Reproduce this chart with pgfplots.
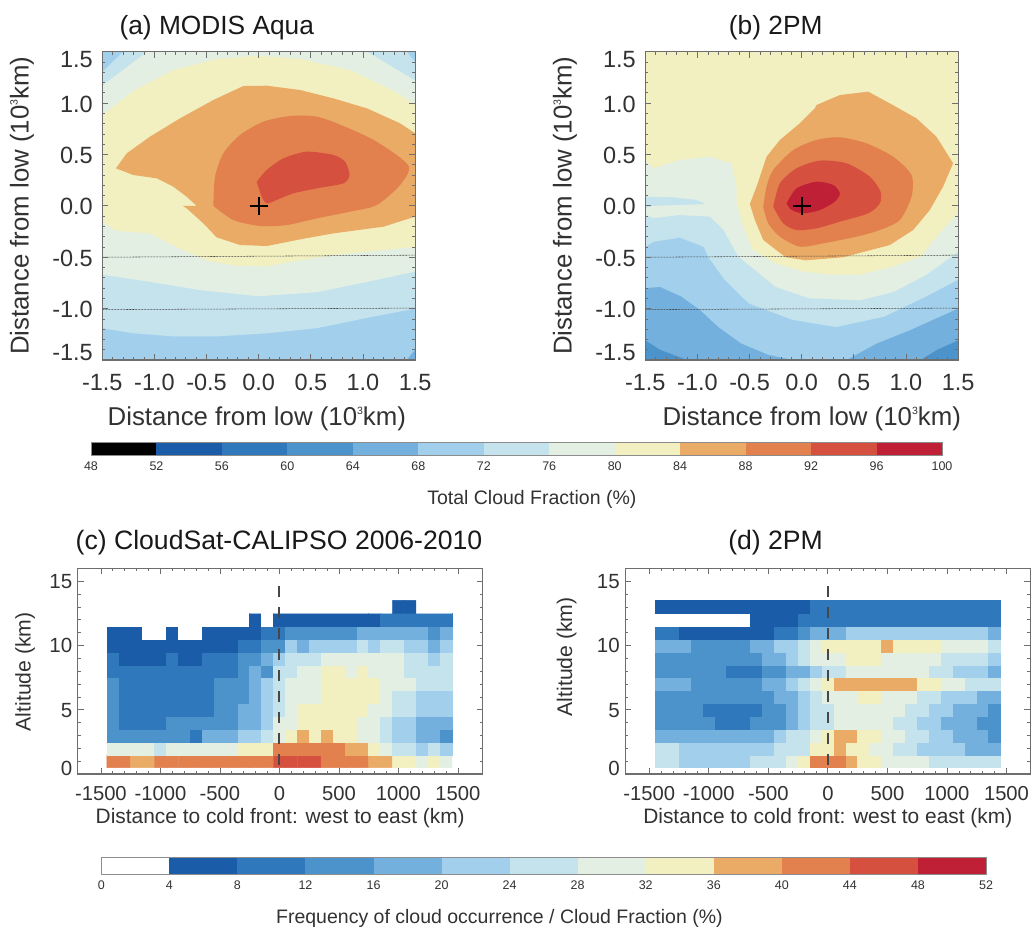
\documentclass[border=0pt]{standalone}
\usepackage{pgfplots}
\pgfplotsset{compat=1.18}
\usepackage{fontspec}
\setmainfont{Liberation Sans}
\usetikzlibrary{plotmarks}
\definecolor{K}{RGB}{0,0,0}
\definecolor{W}{RGB}{255,255,255}
\definecolor{La}{RGB}{26,92,168}
\definecolor{Lb}{RGB}{46,120,187}
\definecolor{Lc}{RGB}{77,147,203}
\definecolor{Ld}{RGB}{115,176,221}
\definecolor{Le}{RGB}{162,208,236}
\definecolor{Lf}{RGB}{197,227,236}
\definecolor{Lg}{RGB}{227,239,226}
\definecolor{Lh}{RGB}{242,239,192}
\definecolor{Li}{RGB}{233,171,102}
\definecolor{Lj}{RGB}{226,128,78}
\definecolor{Lk}{RGB}{213,80,63}
\definecolor{Ll}{RGB}{191,32,54}
\definecolor{framec}{RGB}{110,110,110}
\definecolor{txt}{RGB}{50,50,50}
\newcommand{\yl}[2]{\raisebox{#1}[0pt][0pt]{#2}}
\newcommand{\supthree}{\raisebox{.42em}{\fontsize{10.5}{12}\selectfont 3}}
\pgfplotsset{
  every axis title shift=0pt,
  every axis/.append style={scale only axis, axis on top,
    tick align=inside, major tick length=6pt, minor tick length=3pt,
    tick style={color=framec, line width=.8pt},
    minor tick style={color=framec, line width=.7pt},
    axis line style={color=framec, line width=1.1pt},
    clip=true},
  mypanel/.style={width=312.8pt, height=308.3pt, xmin=-1.5, xmax=1.5, ymin=-1.5, ymax=1.5,
    xtick={-1.5,-1,-.5,0,.5,1,1.5},
    xticklabels={-1.5,-1.0,-0.5,0.0,0.5,1.0,1.5},
    ytick={-1.5,-1,-.5,0,.5,1,1.5},
    yticklabels={\yl{8pt}{-1.5},\yl{-1pt}{-1.0},\yl{-1pt}{-0.5},\yl{0pt}{0.0},\yl{-1pt}{0.5},\yl{-1pt}{1.0},\yl{-8pt}{1.5}},
    minor x tick num=4, minor y tick num=4,
    xticklabel style={font=\fontsize{23.5}{26}\selectfont, color=txt, yshift=-11pt},
    yticklabel style={font=\fontsize{23.5}{26}\selectfont, color=txt, yshift=-8.3pt, xshift=-6pt},
    xlabel={Distance from low (10\supthree km)},
    ylabel={Distance from low (10\supthree km)},
    label style={font=\fontsize{25.8}{28}\selectfont, color=txt},
    title style={font=\fontsize{26.3}{30}\selectfont, color=black!90},
  },
  mycross/.style={only marks, mark=+, mark size=9pt, mark options={line width=2pt, draw=black, solid}},
  mydash/.style={color=black!75, line width=.55pt, dash pattern=on 2pt off 1pt},
  mygrid/.style={width=405pt, height=205.7pt, ymin=0, ymax=16,
    xtick={-1500,-1000,-500,0,500,1000,1500},
    xticklabels={-1500,-1000,-500,0,500,1000,1500},
    ytick={0,5,10,15},
    yticklabels={\yl{6pt}{0},\yl{0pt}{5},\yl{0pt}{10},\yl{0pt}{15}},
    minor x tick num=4, minor y tick num=4,
    xticklabel style={font=\fontsize{20.2}{24}\selectfont, color=txt, yshift=-9pt},
    yticklabel style={font=\fontsize{20.5}{24}\selectfont, color=txt, yshift=-7.5pt, xshift=-2pt},
    xlabel={Distance to cold front: west to east (km)},
    ylabel={Altitude (km)},
    xlabel style={font=\fontsize{20.9}{24}\selectfont, color=txt},
    ylabel style={font=\fontsize{21.2}{24}\selectfont, color=txt},
    title style={font=\fontsize{26.6}{30}\selectfont, color=black!90},
    colormap={frq}{rgb255=(255,255,255) rgb255=(26,92,168) rgb255=(46,120,187) rgb255=(77,147,203)
      rgb255=(115,176,221) rgb255=(162,208,236) rgb255=(197,227,236) rgb255=(227,239,226)
      rgb255=(242,239,192) rgb255=(233,171,102) rgb255=(226,128,78) rgb255=(213,80,63) rgb255=(191,32,54)},
    colormap access=piecewise constant, point meta min=0, point meta max=52,
  },
  mycells/.style={matrix plot*, mesh/cols=29, point meta=explicit},
  myfront/.style={color=black!72, line width=2pt, dash pattern=on 11pt off 10pt},
  myround/.style={draw=none, smooth, tension=.45},
  mybar/.style={ymin=0, ymax=1, ytick=\empty, major tick length=0pt,
    /pgf/number format/assume math mode=true,
    axis line style={color=black!45, line width=.8pt},
    xticklabel style={font=\fontsize{12.5}{14}\selectfont, color=txt, yshift=-3pt},
    label style={font=\fontsize{19.5}{22}\selectfont, color=txt}},
}
\begin{document}
\begin{tikzpicture}[x=1pt,y=1pt]
\path[use as bounding box] (0,0) rectangle (1032,926);

% ---------- (a)
\begin{axis}[mypanel, at={(102.3pt,566pt)}, anchor=south west,
  title={(a) MODIS Aqua}, title style={at={(axis description cs:.366,1.078)}, anchor=center},
  xlabel style={at={(axis description cs:.494,-.19)}, anchor=center},
  ylabel style={at={(axis description cs:-.257,.5)}, anchor=center}]
\addplot[fill=Le, draw=none] coordinates {(-1.5,-1.5)(1.5,-1.5)(1.5,1.5)(-1.5,1.5)};
\addplot[fill=Ld, draw=none] coordinates {(1.42,-1.5)(1.5,-1.5)(1.5,-1.40)};
\addplot[fill=Lf, draw=none] coordinates {(-1.5,-1.19)(-1.2,-1.24)(-.82,-1.27)(-.4,-1.27)(.08,-1.24)(.56,-1.19)(1.04,-1.09)(1.5,-1.0)(1.5,1.4)(1.42,1.5)(-1.3,1.5)(-1.5,1.3)};
\addplot[fill=Lg, draw=none] coordinates {(-1.5,-.67)(-1.04,-.74)(-.56,-.82)(0,-.88)(.56,-.84)(1.04,-.74)(1.5,-.64)(1.5,1.22)(1.04,1.5)(-1.07,1.5)(-1.5,1.17)};
\addplot[fill=Lh, draw=none] coordinates {(-1.5,-.15)(-1.38,-.24)(-1.04,-.27)(-.79,-.40)(-.50,-.53)(-.24,-.58)(.08,-.59)(.33,-.54)(.72,-.48)(1.2,-.43)(1.5,-.4)(1.5,.99)(1.29,1.12)(.88,1.32)(.4,1.43)(0,1.46)(-.4,1.43)(-.82,1.32)(-1.2,1.12)(-1.5,.88)};
\addplot[fill=Li, draw=none] coordinates {(-1.369,.365)(-1.266,.511)(-1.043,.673)(-.755,.851)(-.435,1.03)(-.147,1.166)(.077,1.169)(.397,1.127)(.716,1.046)(1.036,.949)(1.356,.803)(1.5,.705)(1.5,-.105)(1.196,-.203)(.716,-.268)(.397,-.326)(.077,-.391)(-.179,-.381)(-.403,-.307)(-.531,-.17)(-.691,-.024)(-.729,0)(-.595,0)(-.691,.089)(-.819,.187)(-.979,.268)(-1.202,.3)};
\addplot[fill=Lj, myround] coordinates {(-.435,0)(-.419,.284)(-.339,.511)(-.179,.689)(.045,.819)(.301,.874)(.556,.868)(.812,.777)(1.132,.624)(1.436,.391)(1.356,.203)(1.132,.008)(.876,-.057)(.556,-.122)(.269,-.187)(.013,-.196)(-.243,-.138)(-.435,0)};
\addplot[fill=Lk, myround] coordinates {(-.019,.235)(.077,.349)(.237,.462)(.46,.527)(.716,.495)(.828,.43)(.87,.3)(.812,.219)(.556,.17)(.333,.122)(.173,.057)(.077,.024)(.029,.089)(-.019,.235)};
\addplot[mydash] coordinates {(-1.5,-.5)(1.5,-.48)};
\addplot[mydash] coordinates {(-1.5,-1.01)(1.5,-.995)};
\addplot[mycross] coordinates {(0,0)};
\end{axis}

% ---------- (b)
\begin{axis}[mypanel, at={(645.3pt,566pt)}, anchor=south west,
  title={(b) 2PM}, title style={at={(axis description cs:.417,1.078)}, anchor=center},
  xlabel style={at={(axis description cs:.532,-.19)}, anchor=center},
  ylabel style={at={(axis description cs:-.257,.5)}, anchor=center}]
\addplot[fill=Lh, draw=none] coordinates {(-1.5,-1.5)(1.5,-1.5)(1.5,1.5)(-1.5,1.5)};
\addplot[fill=Lg, draw=none] coordinates {(-1.5,.446)(-1.423,.365)(-1.168,.446)(-.88,.478)(-.673,.414)(-.625,.187)(-.625,.024)(-.56,-.2)(-.47,-.43)(-.25,-.56)(.01,-.64)(.27,-.67)(.56,-.67)(.88,-.59)(1.14,-.495)(1.32,-.27)(1.5,-.07)(1.5,-1.5)(-1.5,-1.5)};
\addplot[fill=Lf, draw=none] coordinates {(-1.5,.089)(-1.232,.083)(-1.008,.057)(-.928,.018)(-1.168,.008)(-1.423,0)(-1.5,-.02)};
\addplot[fill=Lf, draw=none] coordinates {(-1.5,-.09)(-1.42,-.12)(-1.17,-.09)(-.88,-.105)(-.75,-.235)(-.61,-.495)(-.45,-.625)(-.25,-.79)(.07,-.9)(.56,-.92)(.88,-.84)(1.2,-.67)(1.5,-.45)(1.5,-1.5)(-1.5,-1.5)};
\addplot[fill=Le, draw=none] coordinates {(-1.5,-.4)(-1.42,-.35)(-1.17,-.31)(-.94,-.40)(-.9,-.495)(-.74,-.72)(-.51,-.95)(-.09,-1.11)(.33,-1.18)(.79,-1.08)(1.2,-.88)(1.5,-.72)(1.5,-1.5)(-1.5,-1.5)};
\addplot[fill=Ld, draw=none] coordinates {(-1.5,-.80)(-1.36,-.79)(-1.16,-.88)(-.98,-1.01)(-.8,-1.18)(-.58,-1.34)(-.32,-1.45)(-.09,-1.5)(-1.5,-1.5)};
\addplot[fill=Ld, draw=none] coordinates {(.43,-1.5)(.72,-1.34)(1.04,-1.21)(1.5,-1.0)(1.5,-1.5)};
\addplot[fill=Lc, draw=none] coordinates {(-1.5,-1.31)(-1.36,-1.40)(-1.1,-1.5)(-1.5,-1.5)};
\addplot[fill=Lc, draw=none] coordinates {(1.14,-1.5)(1.3,-1.40)(1.5,-1.31)(1.5,-1.5)};
\addplot[fill=Li, draw=none] coordinates {(-.497,.018)(-.433,.187)(-.337,.478)(-.209,.641)(-.018,.803)(.126,.949)(.142,.981)(.366,1.078)(.637,1.111)(.845,.997)(1.101,.851)(1.292,.673)(1.452,.414)(1.356,.187)(1.228,-.041)(1.069,-.235)(.845,-.381)(.4,-.5)(.04,-.53)(-.155,-.5)(-.369,-.332)(-.449,-.138)};
\addplot[fill=Lj, myround] coordinates {(-.369,-.008)(-.337,.187)(-.273,.349)(-.081,.543)(.142,.641)(.366,.667)(.621,.608)(.877,.478)(1.053,.3)(1.053,.089)(.941,-.138)(.749,-.235)(.526,-.3)(.206,-.365)(-.018,-.397)(-.209,-.3)(-.321,-.17)(-.369,-.008)};
\addplot[fill=Lk, myround] coordinates {(-.273,-.008)(-.209,.219)(-.05,.365)(.174,.44)(.43,.414)(.653,.284)(.756,.138)(.749,.024)(.637,-.073)(.366,-.154)(.142,-.219)(-.05,-.235)(-.177,-.17)(-.273,-.008)};
\addplot[fill=Ll, myround] coordinates {(-.145,.024)(-.05,.17)(.142,.235)(.302,.203)(.366,.122)(.318,.041)(.174,-.041)(.014,-.073)(-.097,-.041)(-.145,.024)};
\addplot[mydash] coordinates {(-1.5,-.5)(1.5,-.48)};
\addplot[mydash] coordinates {(-1.5,-1.01)(1.5,-.995)};
\addplot[mycross] coordinates {(0,0)};
\end{axis}

% ---------- colour bar 1
\begin{axis}[mybar, at={(91pt,470.5pt)}, anchor=south west, width=851pt, height=12.8pt,
  xmin=48, xmax=100, xtick={48,52,56,60,64,68,72,76,80,84,88,92,96,100},
  xlabel={Total Cloud Fraction (\%)},
  xlabel style={at={(axis description cs:.518,-3.4)}, anchor=center}]
\addplot[fill=K, draw=none] coordinates {(48,0)(52,0)(52,1)(48,1)};
\addplot[fill=La, draw=none] coordinates {(52,0)(56,0)(56,1)(52,1)};
\addplot[fill=Lb, draw=none] coordinates {(56,0)(60,0)(60,1)(56,1)};
\addplot[fill=Lc, draw=none] coordinates {(60,0)(64,0)(64,1)(60,1)};
\addplot[fill=Ld, draw=none] coordinates {(64,0)(68,0)(68,1)(64,1)};
\addplot[fill=Le, draw=none] coordinates {(68,0)(72,0)(72,1)(68,1)};
\addplot[fill=Lf, draw=none] coordinates {(72,0)(76,0)(76,1)(72,1)};
\addplot[fill=Lg, draw=none] coordinates {(76,0)(80,0)(80,1)(76,1)};
\addplot[fill=Lh, draw=none] coordinates {(80,0)(84,0)(84,1)(80,1)};
\addplot[fill=Li, draw=none] coordinates {(84,0)(88,0)(88,1)(84,1)};
\addplot[fill=Lj, draw=none] coordinates {(88,0)(92,0)(92,1)(88,1)};
\addplot[fill=Lk, draw=none] coordinates {(92,0)(96,0)(96,1)(92,1)};
\addplot[fill=Ll, draw=none] coordinates {(96,0)(100,0)(100,1)(96,1)};
\end{axis}

% ---------- (c)
\begin{axis}[mygrid, at={(77.7pt,152pt)}, anchor=south west, xmin=-1695, xmax=1708,
  title={(c) CloudSat-CALIPSO 2006-2010}, title style={at={(axis description cs:.497,1.125)}, anchor=center},
  xlabel style={at={(axis description cs:.5,-.212)}, anchor=center},
  ylabel style={at={(axis description cs:-.13,.497)}, anchor=center}]
\addplot[mycells] table[row sep=crcr, header=false, meta index=0,
  x expr={-1400+100*mod(\coordindex,29)}, y expr={1+floor((\coordindex+0.5)/29)}] {
42\\42\\38\\38\\42\\42\\42\\42\\42\\42\\42\\42\\42\\42\\46\\46\\46\\46\\42\\42\\42\\42\\38\\38\\34\\34\\30\\34\\30\\
30\\30\\30\\30\\26\\30\\30\\30\\30\\30\\30\\34\\34\\34\\42\\42\\42\\42\\42\\42\\38\\38\\34\\30\\26\\26\\22\\26\\22\\
14\\14\\14\\14\\14\\14\\14\\10\\18\\18\\18\\22\\22\\26\\30\\34\\38\\34\\38\\34\\34\\30\\30\\26\\22\\22\\18\\18\\14\\
14\\10\\10\\10\\10\\14\\14\\14\\14\\14\\14\\18\\18\\22\\30\\30\\34\\34\\34\\34\\34\\30\\30\\26\\22\\22\\18\\18\\18\\
14\\10\\10\\10\\10\\10\\10\\10\\10\\14\\14\\18\\18\\22\\26\\30\\34\\34\\34\\34\\34\\34\\30\\30\\26\\26\\22\\22\\22\\
14\\10\\10\\10\\10\\10\\10\\10\\10\\14\\14\\14\\18\\22\\26\\30\\30\\30\\34\\34\\34\\34\\34\\30\\26\\26\\22\\22\\22\\
14\\10\\10\\10\\10\\10\\10\\10\\10\\14\\14\\14\\18\\22\\26\\30\\30\\30\\34\\34\\34\\34\\34\\30\\30\\30\\26\\26\\26\\
10\\10\\10\\10\\10\\10\\10\\10\\10\\10\\10\\14\\18\\14\\26\\26\\30\\30\\34\\34\\30\\34\\30\\30\\30\\26\\26\\26\\26\\
10\\6\\6\\6\\6\\10\\6\\6\\10\\10\\10\\14\\14\\18\\22\\26\\26\\26\\30\\30\\30\\30\\30\\30\\30\\26\\26\\22\\26\\
6\\6\\6\\6\\6\\6\\6\\6\\6\\6\\6\\10\\10\\14\\14\\22\\18\\22\\22\\22\\22\\26\\22\\26\\26\\22\\22\\18\\22\\
6\\6\\6\\2\\2\\6\\2\\2\\6\\6\\6\\6\\6\\10\\10\\14\\14\\14\\14\\14\\14\\18\\18\\18\\18\\18\\18\\14\\18\\
2\\2\\2\\2\\2\\2\\2\\2\\2\\2\\2\\2\\6\\2\\6\\6\\6\\6\\6\\6\\6\\6\\6\\10\\10\\10\\10\\10\\10\\
2\\2\\2\\2\\2\\2\\2\\2\\2\\2\\2\\2\\2\\2\\2\\2\\2\\2\\2\\2\\2\\2\\2\\2\\6\\6\\2\\2\\2\\
};
\addplot[myfront] coordinates {(0,14.6)(0,0)};
\end{axis}

% ---------- (d)
\begin{axis}[mygrid, at={(625.3pt,152pt)}, anchor=south west, xmin=-1701, xmax=1700,
  title={(d) 2PM}, title style={at={(axis description cs:.371,1.125)}, anchor=center},
  xlabel style={at={(axis description cs:.5,-.212)}, anchor=center},
  ylabel style={at={(axis description cs:-.145,.57)}, anchor=center}]
\addplot[mycells] table[row sep=crcr, header=false, meta index=0,
  x expr={-1400+100*mod(\coordindex,29)}, y expr={1+floor((\coordindex+0.5)/29)}] {
26\\26\\22\\22\\22\\22\\22\\22\\26\\26\\26\\30\\34\\42\\42\\42\\38\\34\\34\\30\\30\\30\\30\\26\\26\\26\\26\\26\\26\\
26\\26\\22\\22\\22\\22\\22\\22\\22\\22\\26\\26\\26\\34\\34\\38\\34\\34\\30\\30\\26\\26\\22\\22\\22\\22\\18\\18\\18\\
18\\18\\18\\18\\18\\18\\18\\18\\18\\18\\22\\26\\26\\30\\34\\38\\38\\34\\34\\30\\30\\26\\26\\22\\22\\18\\18\\18\\14\\
14\\14\\14\\14\\14\\10\\10\\10\\14\\14\\14\\18\\22\\26\\26\\30\\30\\30\\30\\30\\26\\26\\22\\22\\18\\18\\18\\14\\14\\
14\\14\\14\\14\\10\\10\\10\\10\\10\\14\\14\\18\\22\\26\\26\\30\\30\\30\\30\\30\\30\\26\\26\\22\\22\\18\\18\\18\\14\\
14\\14\\14\\14\\14\\14\\14\\14\\14\\14\\18\\18\\22\\26\\30\\30\\30\\34\\34\\30\\30\\30\\26\\26\\22\\22\\22\\18\\18\\
18\\18\\18\\14\\14\\14\\14\\14\\14\\18\\18\\22\\26\\30\\34\\38\\38\\38\\38\\38\\38\\38\\34\\34\\30\\30\\26\\26\\26\\
14\\14\\14\\14\\14\\14\\10\\10\\10\\14\\14\\18\\18\\22\\26\\26\\30\\30\\30\\30\\30\\30\\30\\26\\26\\22\\22\\22\\18\\
14\\14\\14\\14\\14\\14\\14\\14\\14\\18\\18\\22\\26\\30\\30\\30\\34\\34\\34\\30\\30\\30\\30\\30\\26\\26\\26\\26\\22\\
18\\18\\18\\14\\14\\14\\14\\14\\18\\18\\22\\22\\26\\30\\34\\34\\34\\34\\34\\38\\34\\34\\34\\34\\30\\30\\30\\30\\26\\
10\\10\\6\\6\\6\\6\\6\\6\\6\\6\\10\\10\\14\\18\\18\\18\\22\\22\\22\\22\\22\\22\\22\\22\\22\\22\\22\\22\\18\\
2\\2\\2\\2\\2\\2\\2\\2\\6\\6\\6\\6\\10\\10\\10\\10\\10\\10\\10\\10\\10\\10\\10\\10\\10\\10\\10\\10\\10\\
6\\6\\6\\6\\6\\6\\6\\6\\6\\6\\6\\6\\6\\10\\10\\10\\10\\10\\10\\10\\10\\10\\10\\10\\10\\10\\10\\10\\10\\
};
\addplot[myfront] coordinates {(0,14.6)(0,0)};
\end{axis}

% ---------- colour bar 2
\begin{axis}[mybar, at={(101.3pt,51.7pt)}, anchor=south west, width=884.7pt, height=16.6pt,
  xmin=0, xmax=52, xtick={0,4,8,12,16,20,24,28,32,36,40,44,48,52},
  xlabel={Frequency of cloud occurrence / Cloud Fraction (\%)},
  xlabel style={at={(axis description cs:.45,-2.67)}, anchor=center}]
\addplot[fill=W, draw=none] coordinates {(0,0)(4,0)(4,1)(0,1)};
\addplot[fill=La, draw=none] coordinates {(4,0)(8,0)(8,1)(4,1)};
\addplot[fill=Lb, draw=none] coordinates {(8,0)(12,0)(12,1)(8,1)};
\addplot[fill=Lc, draw=none] coordinates {(12,0)(16,0)(16,1)(12,1)};
\addplot[fill=Ld, draw=none] coordinates {(16,0)(20,0)(20,1)(16,1)};
\addplot[fill=Le, draw=none] coordinates {(20,0)(24,0)(24,1)(20,1)};
\addplot[fill=Lf, draw=none] coordinates {(24,0)(28,0)(28,1)(24,1)};
\addplot[fill=Lg, draw=none] coordinates {(28,0)(32,0)(32,1)(28,1)};
\addplot[fill=Lh, draw=none] coordinates {(32,0)(36,0)(36,1)(32,1)};
\addplot[fill=Li, draw=none] coordinates {(36,0)(40,0)(40,1)(36,1)};
\addplot[fill=Lj, draw=none] coordinates {(40,0)(44,0)(44,1)(40,1)};
\addplot[fill=Lk, draw=none] coordinates {(44,0)(48,0)(48,1)(44,1)};
\addplot[fill=Ll, draw=none] coordinates {(48,0)(52,0)(52,1)(48,1)};
\end{axis}
\end{tikzpicture}
\end{document}
